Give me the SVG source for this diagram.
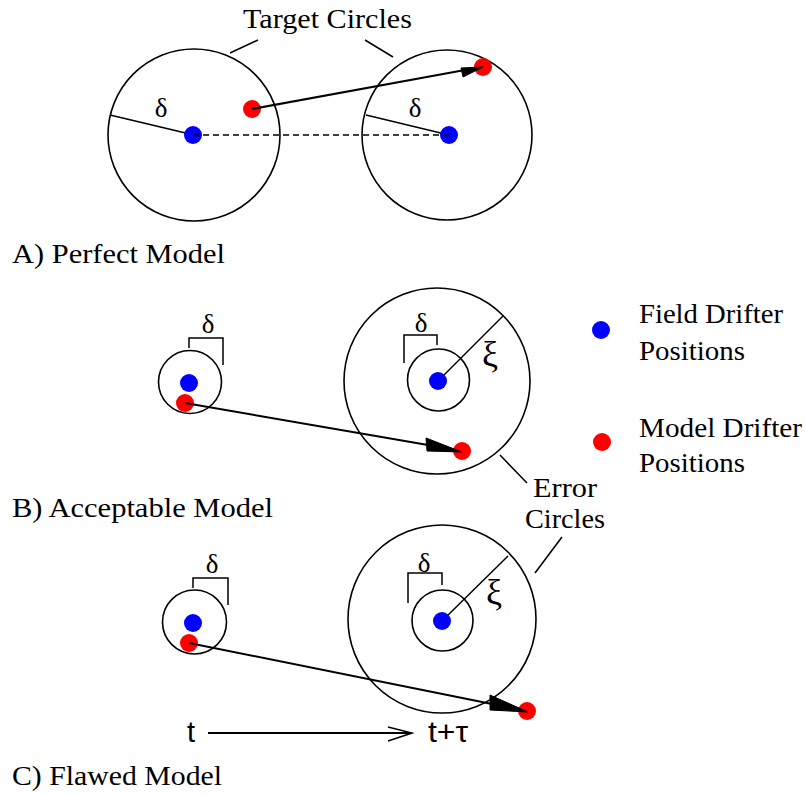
<svg xmlns="http://www.w3.org/2000/svg" width="805" height="795" viewBox="0 0 805 795">
<style>
.c{fill:none;stroke:#000;stroke-width:1.6}
.l{fill:none;stroke:#000;stroke-width:1.5}
.a{fill:none;stroke:#000;stroke-width:2}
.h{fill:#000;stroke:#000;stroke-width:1}
.s{font-family:"Liberation Serif","Times New Roman",serif;font-size:28px;fill:#000}
.g{font-family:"Liberation Serif","Times New Roman",serif;font-size:27px;fill:#000;text-anchor:middle}
.x{font-family:"Liberation Serif","Times New Roman",serif;font-size:36px;fill:#000;text-anchor:middle}
.t{font-family:"Liberation Sans",Arial,sans-serif;font-size:29px;fill:#000;font-weight:300}
.b{fill:#0000ff}
.r{fill:#ff0000}
</style>
<rect width="805" height="795" fill="#fff"/>
<g id="panelA">
  <g id="A-left-circle"><circle class="c" cx="194" cy="135" r="86"/><line class="l" x1="110" y1="115" x2="194" y2="135"/><text class="g" x="161" y="117">δ</text></g>
  <g id="A-right-circle"><circle class="c" cx="447" cy="135" r="85"/><line class="l" x1="366" y1="115" x2="449" y2="135"/><text class="g" x="415" y="117">δ</text></g>
  <g id="A-field-start"><circle class="b" cx="193" cy="135" r="9"/></g>
  <g id="A-field-end"><circle class="b" cx="449" cy="135" r="9"/></g>
  <g id="A-model-start"><circle class="r" cx="252" cy="109" r="9"/></g>
  <g id="A-model-end"><circle class="r" cx="483" cy="67" r="9"/></g>
  <g id="A-title"><text class="s" x="243" y="28" textLength="169" lengthAdjust="spacingAndGlyphs">Target Circles</text></g>
  <g id="A-label"><text class="s" x="12" y="263" textLength="213" lengthAdjust="spacingAndGlyphs">A) Perfect Model</text></g>
</g>
<g id="panelB">
  <g id="B-left-circle"><circle class="c" cx="190" cy="382" r="31.5"/>
    <path class="l" d="M189,348 V338 H223 V365"/><text class="g" x="208" y="333">δ</text></g>
  <g id="B-error-circle"><circle class="c" cx="437" cy="381" r="93"/><circle class="c" cx="438.5" cy="380" r="31"/>
    <path class="l" d="M404,363 V335 H437 V345"/><text class="g" x="421" y="332">δ</text>
    <line class="l" x1="438" y1="381" x2="503" y2="316"/><text class="x" x="490" y="366">ξ</text></g>
  <g id="B-field-start"><circle class="b" cx="189" cy="383" r="9"/></g>
  <g id="B-field-end"><circle class="b" cx="438" cy="381" r="9"/></g>
  <g id="B-model-start"><circle class="r" cx="185" cy="403" r="9"/></g>
  <g id="B-model-end"><circle class="r" cx="462" cy="451" r="9"/></g>
  <g id="B-label"><text class="s" x="12" y="517" textLength="261" lengthAdjust="spacingAndGlyphs">B) Acceptable Model</text></g>
</g>
<g id="panelC">
  <g id="C-left-circle"><circle class="c" cx="194.5" cy="622" r="32"/>
    <path class="l" d="M193,588 V578 H228 V605"/><text class="g" x="212" y="573">δ</text></g>
  <g id="C-error-circle"><circle class="c" cx="442" cy="619" r="94"/><circle class="c" cx="442.5" cy="620.5" r="30.5"/>
    <path class="l" d="M408,603 V573 H442 V585"/><text class="g" x="424" y="572">δ</text>
    <line class="l" x1="442" y1="621" x2="508" y2="556"/><text class="x" x="494" y="604">ξ</text></g>
  <g id="C-field-start"><circle class="b" cx="193" cy="623" r="9"/></g>
  <g id="C-field-end"><circle class="b" cx="442" cy="621" r="9"/></g>
  <g id="C-model-start"><circle class="r" cx="189" cy="643" r="9"/></g>
  <g id="C-model-end"><circle class="r" cx="527" cy="711" r="9"/></g>
  <g id="C-label"><text class="s" x="12" y="785" textLength="210" lengthAdjust="spacingAndGlyphs">C) Flawed Model</text></g>
  <g id="time-axis"><text class="t" x="187" y="742">t</text><text class="t" x="428" y="742" textLength="40" lengthAdjust="spacingAndGlyphs">t+τ</text></g>
</g>
<g id="error-label"><text class="s" x="533" y="497" textLength="64" lengthAdjust="spacingAndGlyphs">Error</text><text class="s" x="525" y="528" textLength="80" lengthAdjust="spacingAndGlyphs">Circles</text></g>
<g id="legend">
  <g id="legend-field"><circle class="b" cx="601" cy="330" r="9"/><text class="s" x="639" y="323" textLength="144" lengthAdjust="spacingAndGlyphs">Field Drifter</text><text class="s" x="639" y="360" textLength="106" lengthAdjust="spacingAndGlyphs">Positions</text></g>
  <g id="legend-model"><circle class="r" cx="602" cy="442" r="9"/><text class="s" x="639" y="437" textLength="163" lengthAdjust="spacingAndGlyphs">Model Drifter</text><text class="s" x="639" y="472" textLength="106" lengthAdjust="spacingAndGlyphs">Positions</text></g>
</g>
<g id="connectors">
  <line class="l" x1="193" y1="135" x2="449" y2="135" stroke-dasharray="6,4"/>
  <line class="a" x1="252" y1="109" x2="465" y2="70"/>
  <polygon class="h" points="483,67 461,68 463,77"/>
  <line class="a" x1="185" y1="403" x2="428" y2="445"/>
  <polygon class="h" points="462,452 426,438 427,451"/>
  <line class="a" x1="189" y1="643" x2="492" y2="704"/>
  <polygon class="h" points="528,712 490,695 490,710"/>
  <line class="l" x1="230" y1="53" x2="258" y2="40"/>
  <line class="l" x1="365" y1="40" x2="393" y2="57"/>
  <line class="l" x1="500" y1="455" x2="527" y2="483"/>
  <line class="l" x1="535" y1="573" x2="562" y2="537"/>
  <line class="a" x1="208" y1="733" x2="411" y2="733"/>
  <path class="l" d="M388,727 L412,733 L388,741"/>
</g>
</svg>
